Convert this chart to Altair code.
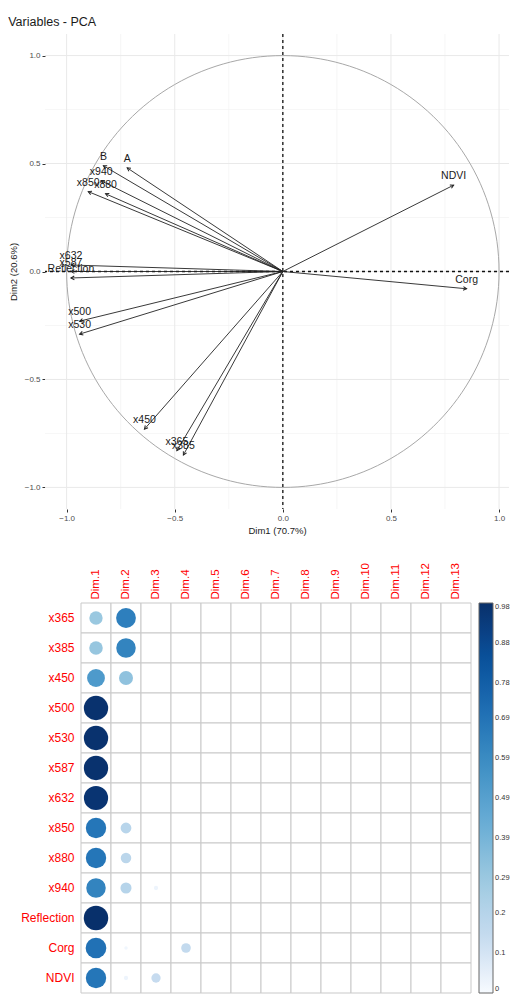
import altair as alt
import pandas as pd

FONT = "Liberation Sans"

# ---------------- PCA variable coordinates ----------------
pca_vars = ["NDVI", "Corg", "A", "B", "x940", "x850", "x880", "x632", "x587",
            "Reflection", "x500", "x530", "x450", "x365", "x385"]
pca_dim1 = [0.79, 0.85, -0.72, -0.83, -0.84, -0.90, -0.82, -0.98, -0.98,
            -0.98, -0.94, -0.94, -0.64, -0.49, -0.46]
pca_dim2 = [0.40, -0.08, 0.48, 0.49, 0.42, 0.37, 0.36, 0.03, 0.00,
            -0.03, -0.23, -0.29, -0.73, -0.83, -0.85]

grid_major = [-1.0, -0.5, 0.0, 0.5, 1.0]
grid_minor = [-0.75, -0.25, 0.25, 0.75]

# ---------------- cos2 matrix (read from the corrplot) ----------------
variables = ["x365", "x385", "x450", "x500", "x530", "x587", "x632", "x850",
             "x880", "x940", "Reflection", "Corg", "NDVI"]
dims = ["Dim.1", "Dim.2", "Dim.3", "Dim.4", "Dim.5", "Dim.6", "Dim.7",
        "Dim.8", "Dim.9", "Dim.10", "Dim.11", "Dim.12", "Dim.13"]
cos2_dim1 = [0.29, 0.30, 0.52, 0.97, 0.97, 0.97, 0.96, 0.68, 0.68, 0.62, 0.98, 0.70, 0.68]
cos2_dim2 = [0.64, 0.62, 0.32, 0.00, 0.00, 0.00, 0.00, 0.19, 0.18, 0.20, 0.00, 0.02, 0.03]
cos2_dim3 = [0.00, 0.00, 0.00, 0.00, 0.00, 0.00, 0.00, 0.00, 0.00, 0.03, 0.00, 0.00, 0.14]
cos2_dim4 = [0.00, 0.00, 0.00, 0.00, 0.00, 0.00, 0.00, 0.00, 0.00, 0.00, 0.00, 0.15, 0.00]
legend_ticks = [0, 0.1, 0.2, 0.29, 0.39, 0.49, 0.59, 0.69, 0.78, 0.88, 0.98]
blues = ["#F7FBFF", "#C6DBEF", "#9ECAE1", "#6BAED6",
         "#4292C6", "#2171B5", "#08519C", "#08306B"]

# ---------------- top chart: correlation circle ----------------
pca_df = pd.DataFrame({"name": pca_vars, "dim1": pca_dim1, "dim2": pca_dim2})
xs = alt.Scale(domain=[-1.1, 1.046], nice=False, zero=False)
ys = alt.Scale(domain=[-1.1, 1.1], nice=False, zero=False)

x_axis = alt.Axis(values=grid_major, format=".1f", grid=False, domain=False,
                  tickSize=3, tickColor="#333333", labelFontSize=8,
                  labelColor="#4d4d4d", labelPadding=2, labelFont=FONT,
                  title="Dim1 (70.7%)", titleFontSize=9.5, titleFontWeight="normal",
                  titleColor="#1a1a1a", titleFont=FONT, titlePadding=3)
y_axis = alt.Axis(values=grid_major, format=".1f", grid=False, domain=False,
                  tickSize=3, tickColor="#333333", labelFontSize=8,
                  labelColor="#4d4d4d", labelPadding=2, labelFont=FONT,
                  title="Dim2 (20.6%)", titleFontSize=9.5, titleFontWeight="normal",
                  titleColor="#1a1a1a", titleFont=FONT, titlePadding=6)

gx_major = alt.Chart(pd.DataFrame({"g": grid_major})).mark_rule(
    color="#e9e9e9", strokeWidth=1).encode(x=alt.X("g:Q", scale=xs, axis=x_axis))
gx_minor = alt.Chart(pd.DataFrame({"g": grid_minor})).mark_rule(
    color="#f2f2f2", strokeWidth=0.7).encode(x=alt.X("g:Q", scale=xs))
gy_major = alt.Chart(pd.DataFrame({"g": grid_major})).mark_rule(
    color="#e9e9e9", strokeWidth=1).encode(y=alt.Y("g:Q", scale=ys, axis=y_axis))
gy_minor = alt.Chart(pd.DataFrame({"g": grid_minor})).mark_rule(
    color="#f2f2f2", strokeWidth=0.7).encode(y=alt.Y("g:Q", scale=ys))

circle = alt.Chart(alt.sequence(0, 362, 2, as_="t")).transform_calculate(
    cx="cos(datum.t*PI/180)", cy="sin(datum.t*PI/180)"
).mark_line(color="#a8a8a8", strokeWidth=1).encode(
    x=alt.X("cx:Q", scale=xs), y=alt.Y("cy:Q", scale=ys), order="t:Q")

origin = pd.DataFrame({"v": [0.0]})
vdash = alt.Chart(origin).mark_rule(color="#111111", strokeWidth=1.3,
                                    strokeDash=[3, 3]).encode(x=alt.X("v:Q", scale=xs))
hdash = alt.Chart(origin).mark_rule(color="#111111", strokeWidth=1.3,
                                    strokeDash=[3, 3]).encode(y=alt.Y("v:Q", scale=ys))

base = alt.Chart(pca_df)
arrows = base.transform_calculate(x0="0", y0="0").mark_rule(
    color="#222222", strokeWidth=0.9).encode(
    x=alt.X("x0:Q", scale=xs), y=alt.Y("y0:Q", scale=ys),
    x2="dim1:Q", y2="dim2:Q")
heads = base.transform_calculate(
    ang="(atan2(datum.dim1, datum.dim2)*180/PI + 360) % 360"
).mark_point(shape="M -0.55 1 L 0 0 L 0.55 1", filled=False, color="#222222",
             strokeWidth=1, size=45, opacity=1).encode(
    x=alt.X("dim1:Q", scale=xs), y=alt.Y("dim2:Q", scale=ys),
    angle=alt.Angle("ang:Q", scale=None))
labels = base.mark_text(fontSize=10.5, font=FONT, color="#1a1a1a", dy=-9).encode(
    x=alt.X("dim1:Q", scale=xs), y=alt.Y("dim2:Q", scale=ys), text="name:N")

top = alt.layer(gx_minor, gy_minor, gx_major, gy_major, circle, vdash, hdash,
                arrows, heads, labels).properties(
    width=464, height=475,
    title=alt.Title("Variables - PCA", anchor="start", fontSize=12.5,
                    fontWeight="normal", color="#1a1a1a", font=FONT, offset=5))

# ---------------- bottom chart: cos2 corrplot ----------------
rows = []
for i, v in enumerate(variables):
    vals = [cos2_dim1[i], cos2_dim2[i], cos2_dim3[i], cos2_dim4[i]] + [0.0] * 9
    for d, val in zip(dims, vals):
        rows.append({"var": v, "dim": d, "cos2": val})
cos_df = pd.DataFrame(rows)

bx = alt.X("dim:N", sort=dims,
           scale=alt.Scale(paddingInner=0, paddingOuter=0.6, align=1),
           axis=alt.Axis(orient="top", labelAngle=-90, labelColor="red",
                         labelFontSize=11.5, labelFont=FONT, ticks=False,
                         domain=False, title=None, labelPadding=4, grid=False))
by = alt.Y("var:N", sort=variables, scale=alt.Scale(paddingInner=0, paddingOuter=0),
           axis=alt.Axis(labelColor="red", labelFontSize=12, labelFont=FONT,
                         ticks=False, domain=False, title=None, labelPadding=7,
                         offset=-36, grid=False))

cells = alt.Chart(cos_df).mark_rect(fill="white", stroke="#c9c9c9",
                                    strokeWidth=1).encode(x=bx, y=by)
dots = alt.Chart(cos_df).transform_filter("datum.cos2 > 0").transform_calculate(
    area="datum.cos2").mark_circle(opacity=1).encode(
    x=bx, y=by,
    size=alt.Size("area:Q", scale=alt.Scale(domain=[0, 1], range=[0, 612]),
                  legend=None),
    color=alt.Color("cos2:Q", scale=alt.Scale(domain=[0, 0.98], range=blues),
                    legend=alt.Legend(type="gradient", title=None,
                                      direction="vertical", format=".2~f",
                                      gradientLength=390, gradientThickness=14,
                                      values=legend_ticks, labelFontSize=7.5,
                                      labelFont=FONT, labelColor="#333333",
                                      labelOffset=2,
                                      gradientStrokeColor="#666666",
                                      gradientStrokeWidth=1, offset=8,
                                      padding=0)))

bottom = alt.layer(cells, dots).properties(width=426, height=390)

chart = alt.vconcat(top, bottom, spacing=27).resolve_legend(
    color="independent", size="independent").properties(
    padding={"left": 0, "top": 7, "right": 0, "bottom": 0},
    background="white"
).configure_view(stroke=None)

chart.save("out.html", embed_options={"renderer": "svg", "actions": False})
